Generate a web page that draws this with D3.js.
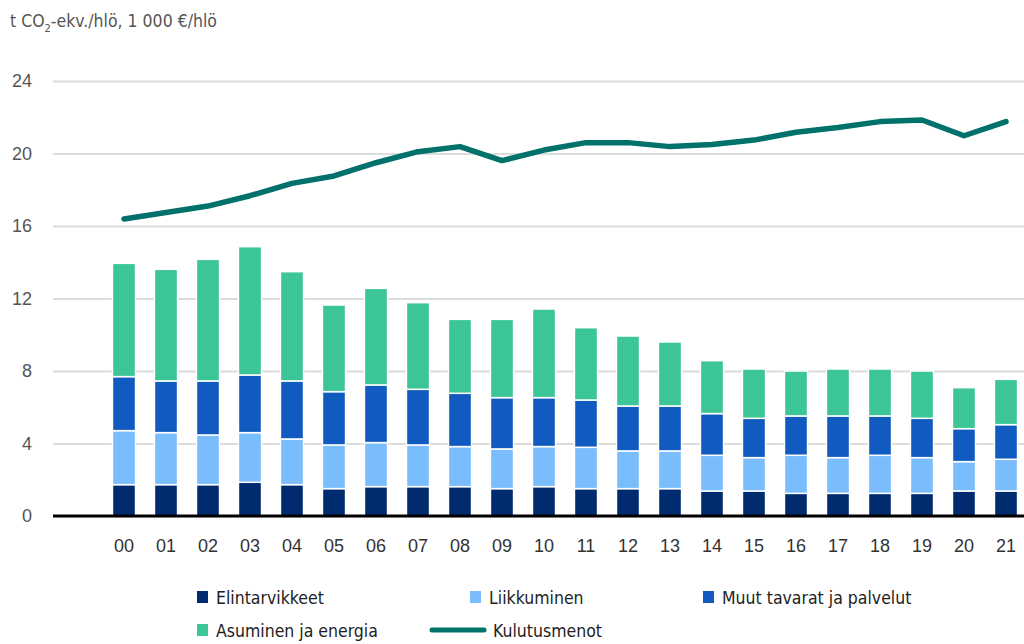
<!DOCTYPE html>
<html>
<head>
<meta charset="utf-8">
<script src="https://cdn.jsdelivr.net/npm/d3@7"></script>
<style>
  body { margin: 0; background: #fff; }
  svg { display: block; font-family: "DejaVu Sans Condensed", sans-serif; }
</style>
</head>
<body>
<svg id="chart" width="1024" height="644"></svg>
<script>
//Data
const years = ["00","01","02","03","04","05","06","07","08","09","10","11","12","13","14","15","16","17","18","19","20","21"];
const elintarvikkeet = [1.73,1.73,1.73,1.86,1.73,1.51,1.62,1.62,1.62,1.51,1.62,1.51,1.51,1.51,1.38,1.38,1.25,1.25,1.25,1.25,1.38,1.38];
const liikkuminen    = [2.98,2.87,2.74,2.74,2.52,2.41,2.43,2.30,2.21,2.19,2.21,2.28,2.08,2.08,1.97,1.84,2.10,1.97,2.10,1.97,1.62,1.75];
const muut           = [2.98,2.85,2.98,3.18,3.20,2.94,3.18,3.07,2.94,2.83,2.70,2.61,2.48,2.48,2.30,2.17,2.17,2.30,2.17,2.17,1.82,1.91];
const asuminen       = [6.25,6.16,6.71,7.08,6.03,4.78,5.33,4.78,4.08,4.32,4.89,3.99,3.86,3.53,2.92,2.72,2.48,2.59,2.59,2.61,2.26,2.50];
const kulutusmenot   = [16.39,16.74,17.10,17.67,18.35,18.76,19.49,20.10,20.38,19.61,20.19,20.60,20.60,20.38,20.50,20.74,21.17,21.43,21.76,21.85,20.98,21.76];
const yTicks = [0, 4, 8, 12, 16, 20, 24];

const seriesNames = ["Elintarvikkeet", "Liikkuminen", "Muut tavarat ja palvelut", "Asuminen ja energia"];
const seriesColors = ["#002b6f", "#7abdfd", "#115bc0", "#3cc596"];
const lineColor = "#00716b";

//Build table for the stack
const table = years.map((y, i) => ({
    year: y,
    "Elintarvikkeet": elintarvikkeet[i],
    "Liikkuminen": liikkuminen[i],
    "Muut tavarat ja palvelut": muut[i],
    "Asuminen ja energia": asuminen[i]
}));

//Measures (px)
const plotLeft = 53, plotRight = 1024, plotTop = 81, plotBottom = 516;

const svg = d3.select("#chart");

let xScale = d3.scaleBand()
    .domain(years)
    .range([103, 1027])
    .paddingInner(0.45)
    .paddingOuter(0.225);

let yScale = d3.scaleLinear()
    .domain([0, 24])
    .range([plotBottom, plotTop]);

//Title
const title = svg.append("text")
    .attr("x", 10)
    .attr("y", 27)
    .attr("fill", "#555")
    .style("font-size", "17.5px");
title.append("tspan").text("t CO");
title.append("tspan").attr("dy", 5).style("font-size", "11px").text("2");
title.append("tspan").attr("dy", -5).text("-ekv./hlö, 1 000 €/hlö");

//Grid lines and y labels
const yAxis = svg.append("g")
    .attr("transform", `translate(${plotLeft},0)`)
    .call(d3.axisLeft(yScale).tickValues(yTicks).tickSize(-(plotRight - plotLeft)).tickPadding(21));
yAxis.select(".domain").remove();
yAxis.selectAll(".tick line").attr("stroke", "#dcdcdc").attr("stroke-width", 2);
yAxis.selectAll(".tick text")
    .attr("fill", "#555")
    .style("font-size", "18px")
    .style("font-family", "inherit");

//Stacked bars
const stack = d3.stack().keys(seriesNames);
svg.append("g")
    .selectAll("g")
    .data(stack(table))
    .enter()
    .append("g")
    .attr("fill", (d, i) => seriesColors[i])
    .selectAll("rect")
    .data(d => d)
    .enter()
    .append("rect")
    .attr("x", d => xScale(d.data.year))
    .attr("y", d => yScale(d[1]))
    .attr("width", xScale.bandwidth())
    .attr("height", d => yScale(d[0]) - yScale(d[1]))
    .attr("stroke", "#fff")
    .attr("stroke-width", 1.5);

//Baseline
svg.append("line")
    .attr("x1", plotLeft).attr("x2", plotRight)
    .attr("y1", yScale(0)).attr("y2", yScale(0))
    .attr("stroke", "#000")
    .attr("stroke-width", 3);

//X labels
const xAxis = svg.append("g")
    .attr("transform", `translate(0,${plotBottom})`)
    .call(d3.axisBottom(xScale).tickSize(0).tickPadding(23));
xAxis.select(".domain").remove();
xAxis.selectAll(".tick text")
    .attr("fill", "#333")
    .style("font-size", "18px")
    .style("font-family", "inherit");

//Line
const line = d3.line()
    .x((d, i) => xScale(years[i]) + xScale.bandwidth() / 2)
    .y(d => yScale(d));
svg.append("path")
    .datum(kulutusmenot)
    .attr("d", line)
    .attr("fill", "none")
    .attr("stroke", lineColor)
    .attr("stroke-width", 5.5)
    .attr("stroke-linecap", "round")
    .attr("stroke-linejoin", "round");

//Legend
const legendItems = [
    { name: "Elintarvikkeet", color: seriesColors[0], x: 197, y: 597, type: "box" },
    { name: "Liikkuminen", color: seriesColors[1], x: 470, y: 597, type: "box" },
    { name: "Muut tavarat ja palvelut", color: seriesColors[2], x: 703, y: 597, type: "box" },
    { name: "Asuminen ja energia", color: seriesColors[3], x: 197, y: 630, type: "box" },
    { name: "Kulutusmenot", color: lineColor, x: 430, y: 630, type: "line" }
];
const legend = svg.append("g").selectAll("g")
    .data(legendItems)
    .enter()
    .append("g")
    .attr("transform", d => `translate(${d.x},${d.y})`);
legend.filter(d => d.type === "box")
    .append("rect")
    .attr("x", 0).attr("y", -6)
    .attr("width", 11).attr("height", 12)
    .attr("fill", d => d.color);
legend.filter(d => d.type === "line")
    .append("line")
    .attr("x1", 2).attr("x2", 54)
    .attr("stroke", d => d.color)
    .attr("stroke-width", 5)
    .attr("stroke-linecap", "round");
legend.append("text")
    .attr("x", d => d.type === "line" ? 63 : 19)
    .attr("y", 6.5)
    .attr("fill", "#222")
    .style("font-size", "17.5px")
    .text(d => d.name);
</script>
</body>
</html>
